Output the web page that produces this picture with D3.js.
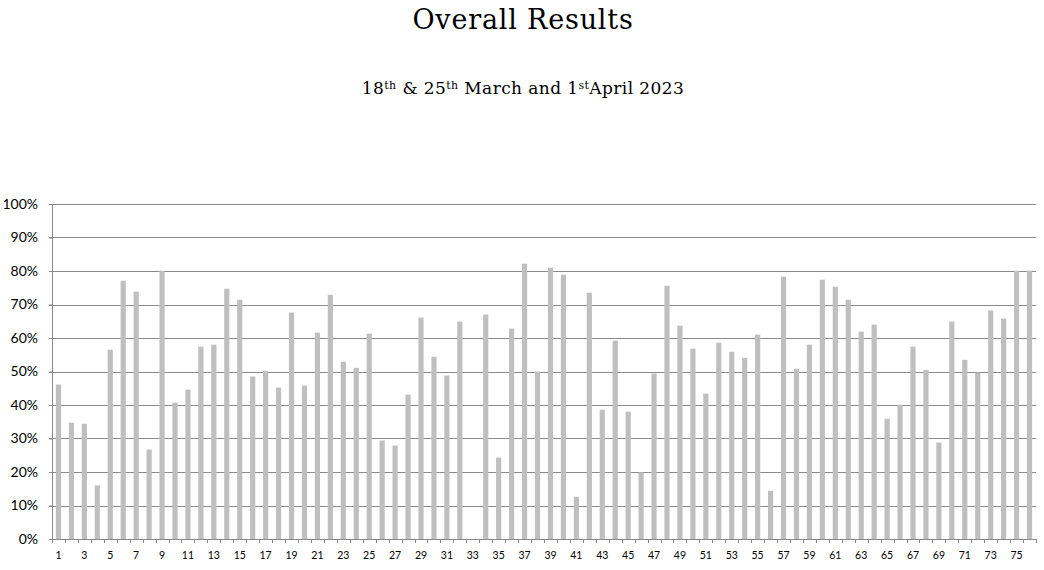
<!DOCTYPE html>
<html>
<head>
<meta charset="utf-8">
<script src="https://cdn.jsdelivr.net/npm/d3@7"></script>
<style>
  body { margin: 0; background: #fff; }
  svg { display: block; }
</style>
</head>
<body>
<script>
// players 1..76, score as a fraction (33 has no result)
var categories = d3.range(1, 77);
var scores = [
  0.461, 0.347, 0.344, 0.160, 0.565, 0.771, 0.738, 0.267, 0.801, 0.407,
  0.446, 0.574, 0.580, 0.747, 0.714, 0.485, 0.502, 0.452, 0.676, 0.458,
  0.616, 0.729, 0.529, 0.511, 0.613, 0.294, 0.279, 0.431, 0.661, 0.544,
  0.488, 0.649, 0, 0.670, 0.243, 0.628, 0.822, 0.500, 0.810, 0.789,
  0.126, 0.735, 0.386, 0.592, 0.380, 0.199, 0.494, 0.756, 0.637, 0.568,
  0.434, 0.586, 0.559, 0.541, 0.610, 0.144, 0.783, 0.508, 0.580, 0.774,
  0.753, 0.714, 0.619, 0.640, 0.359, 0.401, 0.574, 0.505, 0.288, 0.649,
  0.535, 0.497, 0.682, 0.658, 0.801, 0.801
];
var yTicks = [0, 0.1, 0.2, 0.3, 0.4, 0.5, 0.6, 0.7, 0.8, 0.9, 1];

var W = 1044, H = 570,
    margin = {top: 204, right: 8, bottom: 31, left: 52},
    width = W - margin.left - margin.right,
    height = H - margin.top - margin.bottom;

var svg = d3.select("body").append("svg")
    .attr("width", W)
    .attr("height", H);

svg.append("text")
    .attr("x", 523).attr("y", 29)
    .attr("text-anchor", "middle")
    .style("font-family", "'DejaVu Serif', serif")
    .style("font-size", "27px")
    .style("letter-spacing", "0.8px")
    .text("Overall Results");

var sub = svg.append("text")
    .attr("x", 523).attr("y", 94)
    .attr("text-anchor", "middle")
    .style("font-family", "'DejaVu Serif', serif")
    .style("font-size", "17px")
    .style("letter-spacing", "0.4px");
[["18", false], ["th", true], [" & 25", false], ["th", true],
 [" March and 1", false], ["st", true], ["April 2023", false]].forEach(function(p) {
  var t = sub.append("tspan").text(p[0]);
  if (p[1]) t.style("font-size", "11px").attr("dy", -5);
  else if (p[0] != "18") t.attr("dy", 5);
});

var g = svg.append("g")
    .attr("transform", "translate(" + margin.left + "," + margin.top + ")");

var x = d3.scaleBand().domain(categories).range([0, width]).paddingInner(0.6).paddingOuter(0.3);
var y = d3.scaleLinear().domain([0, 1]).range([height, 0]);

// grid
g.append("g").selectAll("line")
    .data(yTicks.slice(1))
    .join("line")
    .attr("x1", -3).attr("x2", width)
    .attr("y1", function(d) { return Math.round(y(d)) + 0.5; })
    .attr("y2", function(d) { return Math.round(y(d)) + 0.5; })
    .attr("stroke", "#8a8a8a");

g.selectAll("rect.bar")
    .data(scores)
    .join("rect")
    .attr("class", "bar")
    .attr("x", function(d, i) { return x(categories[i]); })
    .attr("width", x.bandwidth())
    .attr("y", function(d) { return y(d); })
    .attr("height", function(d) { return height - y(d); })
    .attr("fill", "#bfbfbf");

// y axis
var yAxis = g.append("g")
    .call(d3.axisLeft(y).tickValues(yTicks).tickFormat(d3.format(".0%")).tickSize(3).tickPadding(11));
yAxis.selectAll("text")
    .style("font-family", "Lato, 'Open Sans', sans-serif")
    .style("font-size", "14px")
    .attr("fill", "#000");
yAxis.selectAll("line, path").attr("stroke", "#8a8a8a");

// x axis: ticks on category boundaries, labels on odd numbers
var step = width / categories.length;
var xAxis = g.append("g").attr("transform", "translate(0," + height + ")");
xAxis.append("line")
    .attr("x1", 0).attr("x2", width)
    .attr("y1", 0.5).attr("y2", 0.5)
    .attr("stroke", "#8a8a8a");
xAxis.selectAll("line.tick")
    .data(d3.range(categories.length + 1))
    .join("line")
    .attr("class", "tick")
    .attr("x1", function(i) { return Math.round(i * step) + 0.5; })
    .attr("x2", function(i) { return Math.round(i * step) + 0.5; })
    .attr("y1", 0).attr("y2", 4)
    .attr("stroke", "#8a8a8a");
xAxis.selectAll("text")
    .data(categories.filter(function(d) { return d % 2 == 1; }))
    .join("text")
    .attr("x", function(d) { return x(d) + x.bandwidth() / 2; })
    .attr("y", 20)
    .attr("text-anchor", "middle")
    .style("font-family", "Lato, 'Open Sans', sans-serif")
    .style("font-size", "10.5px")
    .text(function(d) { return d; });
</script>
</body>
</html>
